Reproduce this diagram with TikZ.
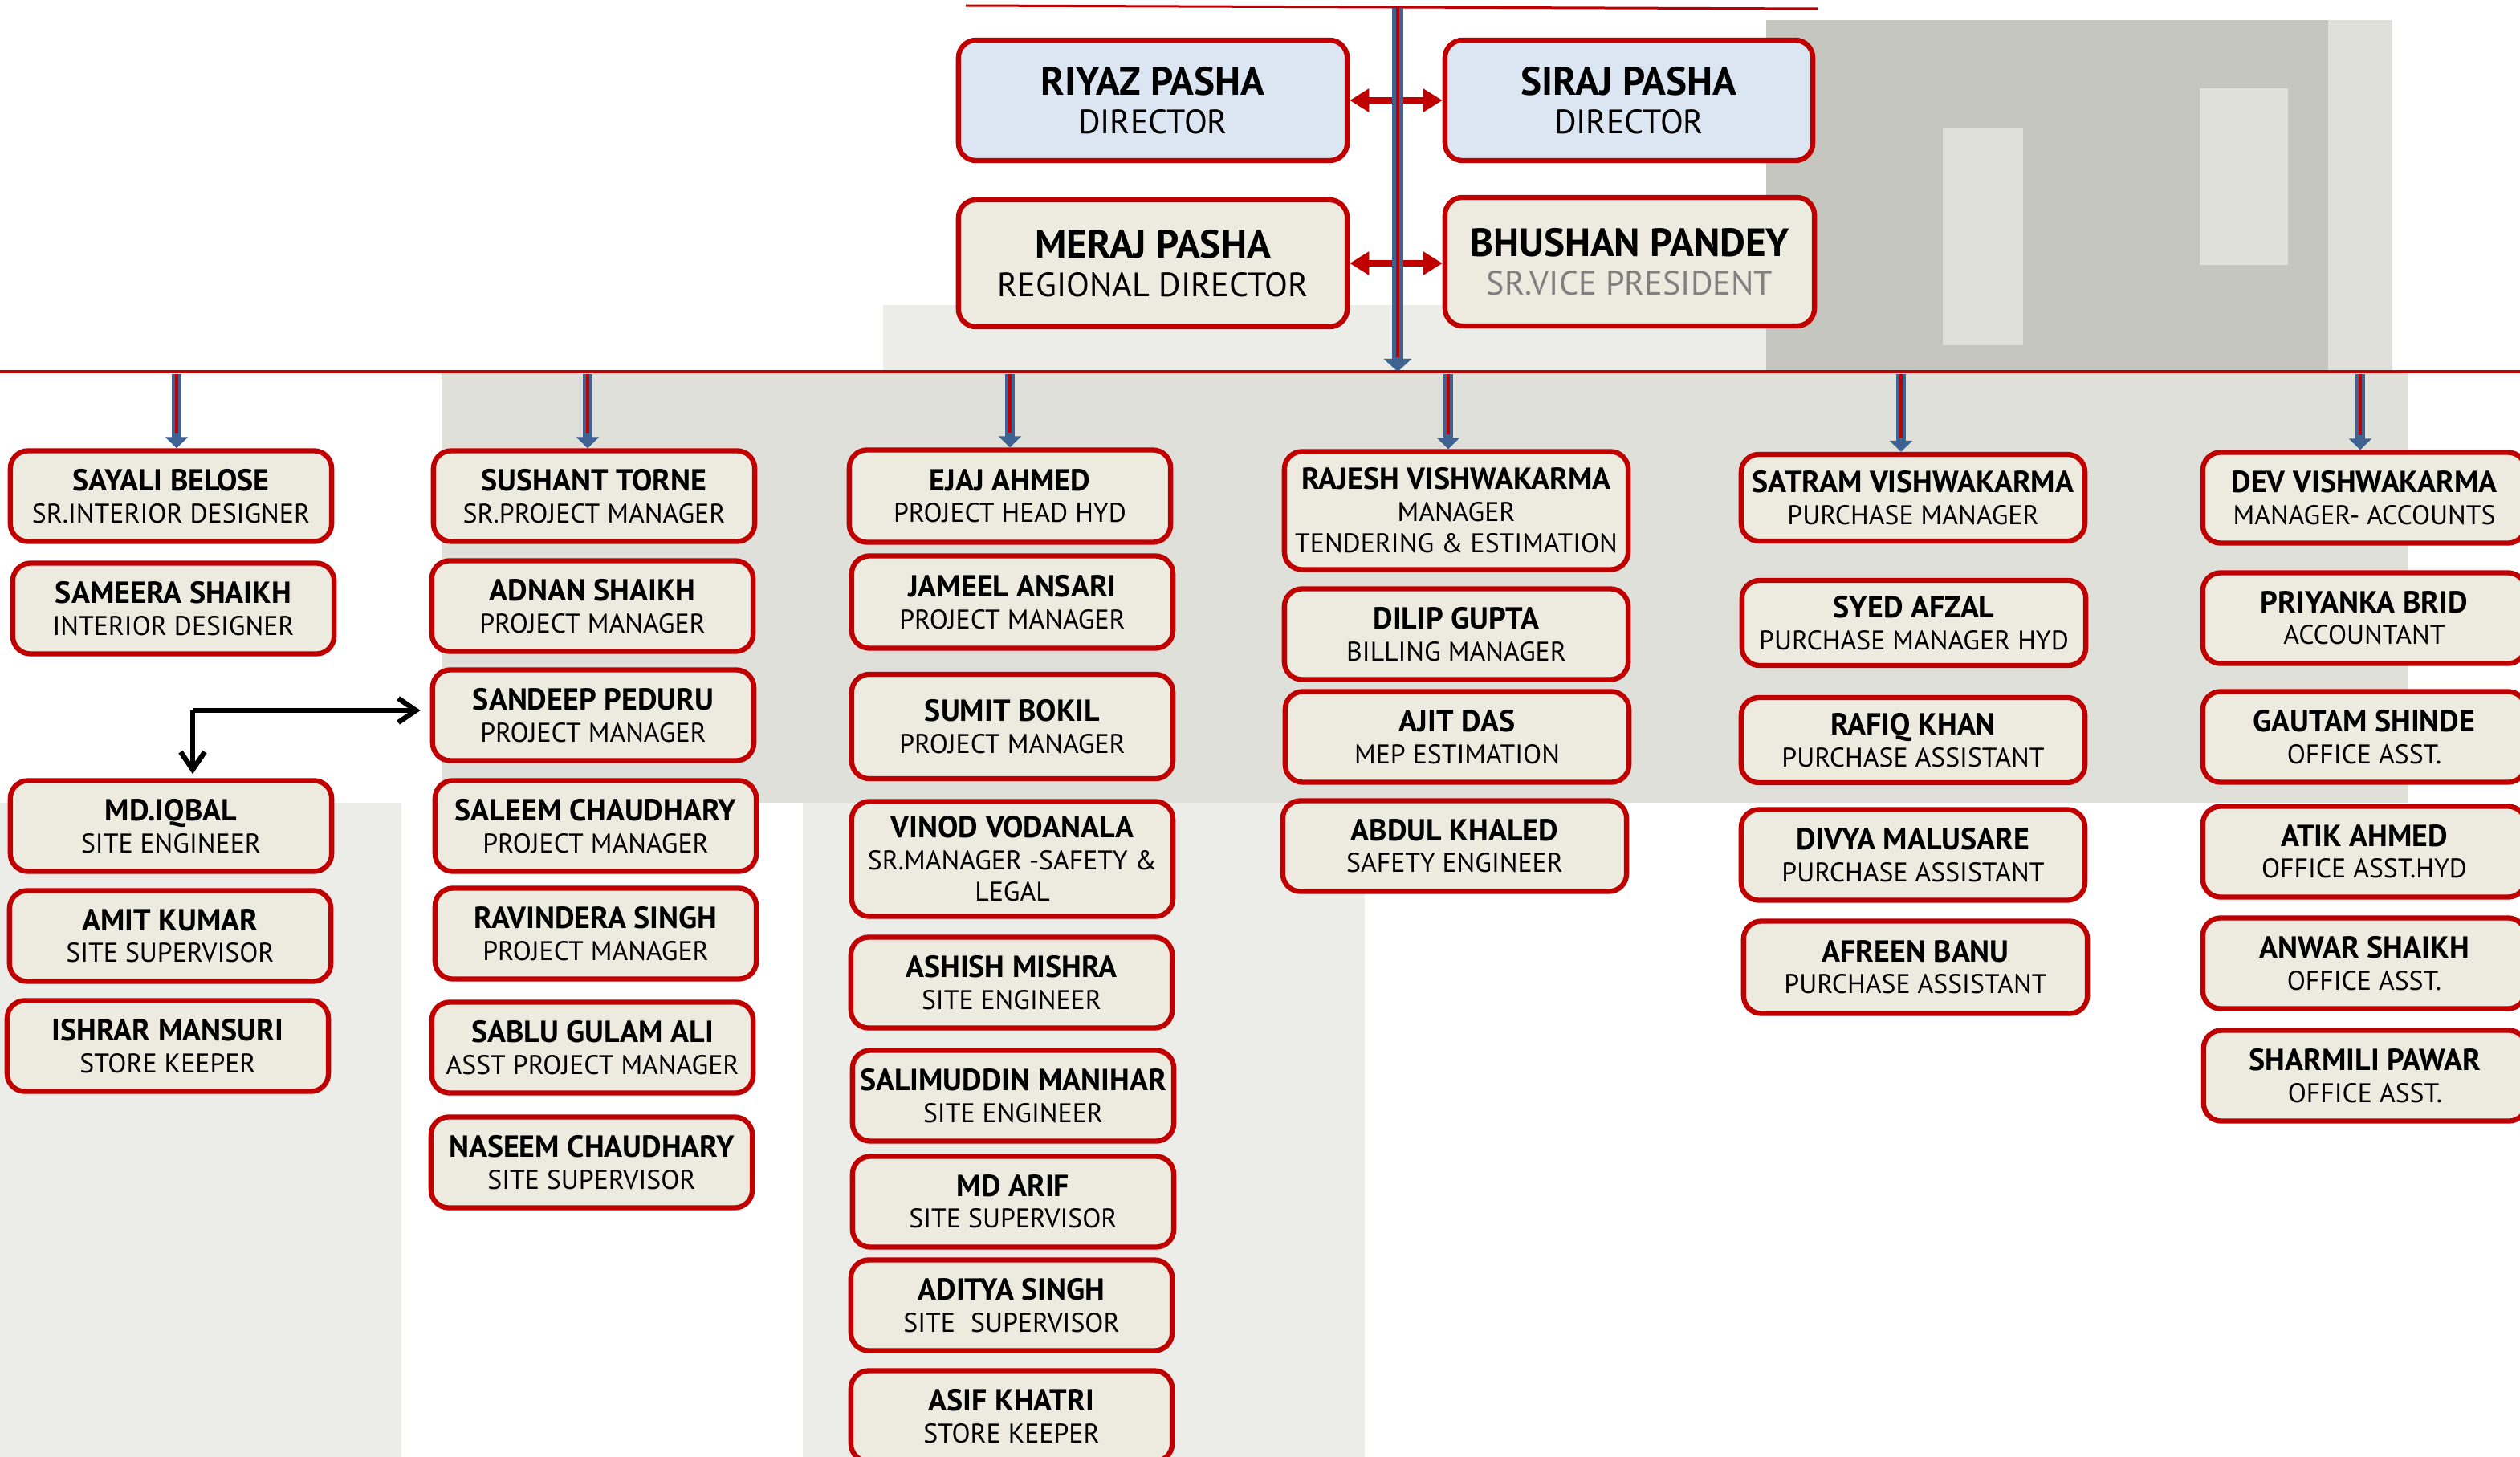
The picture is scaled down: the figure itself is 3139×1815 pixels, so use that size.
\documentclass[tikz,border=0pt]{standalone}
\usepackage{fontspec}
\setmainfont{PT Sans}
\usetikzlibrary{arrows,arrows.meta}
\definecolor{boxred}{RGB}{192,0,0}
\definecolor{boxcream}{RGB}{237,235,224}
\definecolor{boxblue}{RGB}{220,230,242}
\definecolor{feedblue}{RGB}{62,98,146}
\definecolor{titlegray}{RGB}{128,128,128}
\definecolor{bgmid}{RGB}{198,198,192}
\definecolor{bglight}{RGB}{224,224,219}
\definecolor{bgpale}{RGB}{236,236,232}

\newcommand{\nm}[1]{{\fontsize{10.8}{12}\selectfont\bfseries #1}}
\newcommand{\bignm}[1]{{\fontsize{14}{16}\selectfont\bfseries #1}}

\begin{document}
\begin{tikzpicture}[x=0.01cm, y=-0.01cm,
    staff/.style={draw=boxred, line width=1.8pt, rounded corners=2.2mm, fill=boxcream, align=center, inner sep=0pt,
                  minimum width=4cm, minimum height=1.13cm, font=\fontsize{9.6}{11.2}\selectfont},
    wide/.style={minimum width=4.28cm},
    chief/.style={staff, minimum width=4.84cm, minimum height=1.5cm, font=\fontsize{12}{13.5}\selectfont},
    feed/.style={draw=feedblue, line width=1.2mm, -{Triangle[length=1.4mm,width=2.8mm]}},
    thread/.style={draw=boxred, line width=0.35mm, shorten >=1.8mm},
    link/.style={draw=boxred, line width=0.8mm, {Triangle[length=2.4mm,width=2.8mm]}-{Triangle[length=2.4mm,width=2.8mm]}},
    jump/.style={draw=black, line width=1.8pt, -{Straight Barb[length=2.2mm,width=3mm]}}]
    \useasboundingbox (0,0) rectangle (3139,1815);
    \clip (0,0) rectangle (3139,1815);

    % background
    \fill[bglight] (550,463) rectangle (3000,1000);
    \fill[bgpale] (1100,380) rectangle (2200,463);
    \fill[bgmid] (2200,25) rectangle (2900,463);
    \fill[bglight] (2900,25) rectangle (2980,463);
    \fill[bglight] (2420,160) rectangle (2520,430);
    \fill[bglight] (2740,110) rectangle (2850,330);
    \fill[bgpale] (0,1000) rectangle (500,1815);
    \fill[bgpale] (1000,1000) rectangle (1700,1815);

    % directors
    \node at (1436,125) [chief, fill=boxblue] (riyaz) {\bignm{RIYAZ PASHA}\\DIRECTOR};
    \node at (2029,125) [chief, fill=boxblue, minimum width=4.58cm] (siraj) {\bignm{SIRAJ PASHA}\\DIRECTOR};
    \node at (1436,328) [chief, minimum height=1.58cm] (meraj) {\bignm{MERAJ PASHA}\\REGIONAL DIRECTOR};
    \node at (2030,326) [chief, minimum width=4.6cm, minimum height=1.6cm] (bhushan) {\bignm{BHUSHAN PANDEY}\\\textcolor{titlegray}{SR.VICE PRESIDENT}};

    \draw[link] (riyaz.east) -- (siraj.west);
    \draw[link] (meraj.east) -- (meraj.east -| bhushan.west);

    \coordinate (topL) at (1203,7);
    \coordinate (topR) at (2264,11);
    \coordinate (apex) at (1741,10);
    \coordinate (hub) at (1741,463);
    \coordinate (busL) at (0,463);
    \coordinate (busR) at (3139,463);
    \draw[boxred, line width=0.3mm] (topL) -- (topR);
    \draw[feed, line width=1.4mm, -{Triangle[length=1.6mm,width=3.4mm]}] (apex) -- (hub);
    \draw[thread] (apex) -- (hub);
    \draw[boxred, line width=0.4mm] (busL) -- (busR);

    % interiors and site
    \node at (213,618) [staff] (sayali) {\nm{SAYALI BELOSE}\\SR.INTERIOR DESIGNER};
    \node at (216,758) [staff] (sameera) {\nm{SAMEERA SHAIKH}\\INTERIOR DESIGNER};
    \node at (213,1029) [staff] (iqbal) {\nm{MD.IQBAL}\\SITE ENGINEER};
    \node at (212,1166) [staff] (amit) {\nm{AMIT KUMAR}\\SITE SUPERVISOR};
    \node at (209,1303) [staff] (ishrar) {\nm{ISHRAR MANSURI}\\STORE KEEPER};

    % projects
    \node at (740,618) [staff] (sushant) {\nm{SUSHANT TORNE}\\SR.PROJECT MANAGER};
    \node at (738,755) [staff] (adnan) {\nm{ADNAN SHAIKH}\\PROJECT MANAGER};
    \node at (739,891) [staff] (sandeep) {\nm{SANDEEP PEDURU}\\PROJECT MANAGER};
    \node at (742,1029) [staff] (saleem) {\nm{SALEEM CHAUDHARY}\\PROJECT MANAGER};
    \node at (742,1163) [staff] (ravindera) {\nm{RAVINDERA SINGH}\\PROJECT MANAGER};
    \node at (738,1305) [staff] (sablu) {\nm{SABLU GULAM ALI}\\ASST PROJECT MANAGER};
    \node at (737,1448) [staff] (naseem) {\nm{NASEEM CHAUDHARY}\\SITE SUPERVISOR};

    % hyderabad
    \node at (1258,618) [staff, minimum height=1.15cm] (ejaj) {\nm{EJAJ AHMED}\\PROJECT HEAD HYD};
    \node at (1261,750) [staff, minimum height=1.15cm] (jameel) {\nm{JAMEEL ANSARI}\\PROJECT MANAGER};
    \node at (1261,905) [staff, minimum height=1.3cm] (sumit) {\nm{SUMIT BOKIL}\\PROJECT MANAGER};
    \node at (1261,1070) [staff, minimum height=1.43cm] (vinod) {\nm{VINOD VODANALA}\\SR.MANAGER -SAFETY \&\\LEGAL};
    \node at (1260,1224) [staff] (ashish) {\nm{ASHISH MISHRA}\\SITE ENGINEER};
    \node at (1262,1365) [staff] (salimuddin) {\nm{SALIMUDDIN MANIHAR}\\SITE ENGINEER};
    \node at (1262,1497) [staff] (arif) {\nm{MD ARIF}\\SITE SUPERVISOR};
    \node at (1260,1626) [staff] (aditya) {\nm{ADITYA SINGH}\\SITE\hspace{0.3em} SUPERVISOR};
    \node at (1260,1764) [staff] (asif) {\nm{ASIF KHATRI}\\STORE KEEPER};

    % estimation
    \node at (1814,636) [staff, wide, minimum height=1.47cm] (rajesh) {\nm{RAJESH VISHWAKARMA}\\MANAGER\\TENDERING \& ESTIMATION};
    \node at (1814,790) [staff, wide] (dilip) {\nm{DILIP GUPTA}\\BILLING MANAGER};
    \node at (1815,918) [staff, wide] (ajit) {\nm{AJIT DAS}\\MEP ESTIMATION};
    \node at (1812,1054) [staff, wide] (abdul) {\nm{ABDUL KHALED}\\SAFETY ENGINEER};

    % purchase
    \node at (2383,620) [staff, wide, minimum height=1.08cm] (satram) {\nm{SATRAM VISHWAKARMA}\\PURCHASE MANAGER};
    \node at (2384,776) [staff, wide, minimum height=1.06cm] (syed) {\nm{SYED AFZAL}\\PURCHASE MANAGER HYD};
    \node at (2383,922) [staff, wide, minimum height=1.06cm] (rafiq) {\nm{RAFIQ KHAN}\\PURCHASE ASSISTANT};
    \node at (2383,1065) [staff, wide] (divya) {\nm{DIVYA MALUSARE}\\PURCHASE ASSISTANT};
    \node at (2386,1205) [staff, wide, minimum height=1.15cm] (afreen) {\nm{AFREEN BANU}\\PURCHASE ASSISTANT};

    % accounts
    \node at (2945,620) [staff, minimum width=4.02cm] (dev) {\nm{DEV VISHWAKARMA}\\MANAGER- ACCOUNTS};
    \node at (2945,770) [staff, minimum width=4.02cm] (priyanka) {\nm{PRIYANKA BRID}\\ACCOUNTANT};
    \node at (2945,918) [staff, minimum width=4.02cm] (gautam) {\nm{GAUTAM SHINDE}\\OFFICE ASST.};
    \node at (2945,1061) [staff, minimum width=4.02cm] (atik) {\nm{ATIK AHMED}\\OFFICE ASST.HYD};
    \node at (2945,1200) [staff, minimum width=4.02cm] (anwar) {\nm{ANWAR SHAIKH}\\OFFICE ASST.};
    \node at (2946,1340) [staff, minimum width=4.02cm] (sharmili) {\nm{SHARMILI PAWAR}\\OFFICE ASST.};

    % feeds from the bus
    \coordinate (tap1) at (220,466);
    \coordinate (tap2) at (732,466);
    \coordinate (tap3) at (1258,466);
    \coordinate (tap4) at (1804,466);
    \coordinate (tap5) at (2368,466);
    \coordinate (tap6) at (2940,466);
    \draw[feed] (tap1) -- (tap1 |- sayali.north);  \draw[thread] (tap1) -- (tap1 |- sayali.north);
    \draw[feed] (tap2) -- (tap2 |- sushant.north); \draw[thread] (tap2) -- (tap2 |- sushant.north);
    \draw[feed] (tap3) -- (tap3 |- ejaj.north);    \draw[thread] (tap3) -- (tap3 |- ejaj.north);
    \draw[feed] (tap4) -- (tap4 |- rajesh.north);  \draw[thread] (tap4) -- (tap4 |- rajesh.north);
    \draw[feed] (tap5) -- (tap5 |- satram.north);  \draw[thread] (tap5) -- (tap5 |- satram.north);
    \draw[feed] (tap6) -- (tap6 |- dev.north);     \draw[thread] (tap6) -- (tap6 |- dev.north);

    % site engineer moves
    \coordinate (elbow) at (240,885);
    \draw[jump, shorten >=1.2mm] (elbow) -- (elbow -| sandeep.west);
    \draw[jump, shorten >=0.5mm] (elbow) -- (elbow |- iqbal.north);
\end{tikzpicture}
\end{document}
